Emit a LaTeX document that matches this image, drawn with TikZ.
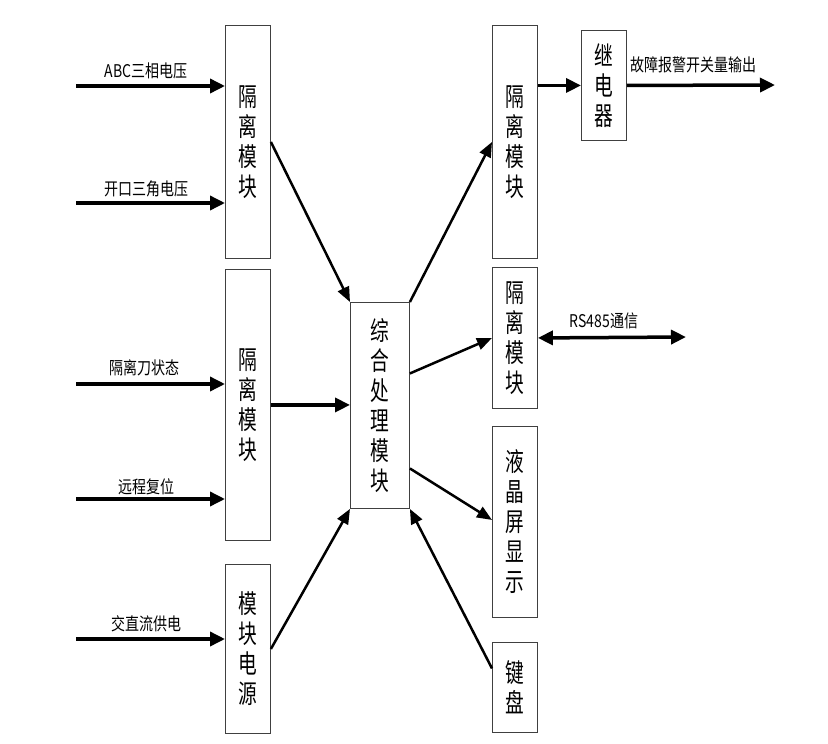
\documentclass[tikz,border=0pt]{standalone}
\usepackage{fontspec}
\usetikzlibrary{arrows.meta,calc}
\newfontfamily\cjk[FakeStretch=0.8]{Noto Sans CJK SC}
\newfontfamily\cjkbox[FakeStretch=0.72]{Noto Sans CJK SC}
\begin{document}
\begin{tikzpicture}[x=1pt,y=-1pt,
  blk/.style={draw=black!75,line width=0.9pt,anchor=north west,inner sep=0pt,align=center,
    font=\cjkbox\fontsize{26}{30}\selectfont},
  lbl/.style={font=\cjk\fontsize{17.5}{20}\selectfont,inner sep=0pt},
  harr/.style={line width=3.5pt,-{Triangle[length=15pt,width=14pt]}},
  darr/.style={line width=2.5pt,-{Triangle[length=15pt,width=12pt]}},
  barr/.style={line width=3.5pt,{Triangle[length=15pt,width=14pt]}-{Triangle[length=15pt,width=14pt]}}]
\useasboundingbox (0,0) rectangle (828,744);
% boxes
\node[blk,minimum width=45pt,minimum height=233pt] (L1) at (225,25) {隔\\离\\模\\块};
\node[blk,minimum width=45pt,minimum height=271pt] (L2) at (225,269) {隔\\离\\模\\块};
\node[blk,minimum width=45pt,minimum height=169pt] (L3) at (225,564) {模\\块\\电\\源};
\node[blk,minimum width=59pt,minimum height=206pt] (C) at (350,302) {综\\合\\处\\理\\模\\块};
\node[blk,minimum width=45pt,minimum height=233pt] (R1) at (492,25) {隔\\离\\模\\块};
\node[blk,minimum width=45pt,minimum height=141pt] (R2) at (492,267) {隔\\离\\模\\块};
\node[blk,minimum width=45pt,minimum height=191pt] (R3) at (492,426) {液\\晶\\屏\\显\\示};
\node[blk,minimum width=45pt,minimum height=90pt] (R4) at (492,642) {键\\盘};
\node[blk,minimum width=45pt,minimum height=110pt] (RY) at (581,30) {继\\电\\器};
% input coordinates
\coordinate (i1) at (76,86);
\coordinate (i2) at (76,203);
\coordinate (i3) at (76,384);
\coordinate (i4) at (76,499);
\coordinate (i5) at (76,639);
\coordinate (o1) at (775,85);
\coordinate (o2) at (686,337);
% input arrows
\draw[harr] (i1) -- (i1 -| L1.west);
\draw[harr] (i2) -- (i2 -| L1.west);
\draw[harr] (i3) -- (i3 -| L2.west);
\draw[harr] (i4) -- (i4 -| L2.west);
\draw[harr] (i5) -- (i5 -| L3.west);
% labels
\node[lbl] (t1) at (146,71) {ABC三相电压};
\node[lbl] (t2) at (146,189) {开口三角电压};
\node[lbl] (t3) at (144,368) {隔离刀状态};
\node[lbl] (t4) at (146,487) {远程复位};
\node[lbl] (t5) at (146,624) {交直流供电};
\node[lbl] (t6) at (693,65) {故障报警开关量输出};
\node[lbl] (t7) at (604,321) {RS485通信};
% to centre
\draw[darr] (L1.east) -- (C.north west);
\draw[harr] (L2.east) -- (C.west |- L2.east);
\draw[darr] (L3.east) -- (C.south west);
% from centre
\draw[darr] (C.north east) -- (R1.west);
\draw[darr] ([yshift=32pt]C.east) -- (R2.west);
\draw[darr] ([yshift=-63pt]C.east) -- ([yshift=2pt]R3.west);
\draw[darr] ([yshift=19pt]R4.west) -- (C.south east);
% right side
\draw[harr] (R1.east |- RY.west) -- (RY.west);
\draw[harr] (RY.east) -- (o1);
\draw[barr] (R2.east) -- (o2);
\end{tikzpicture}
\end{document}
